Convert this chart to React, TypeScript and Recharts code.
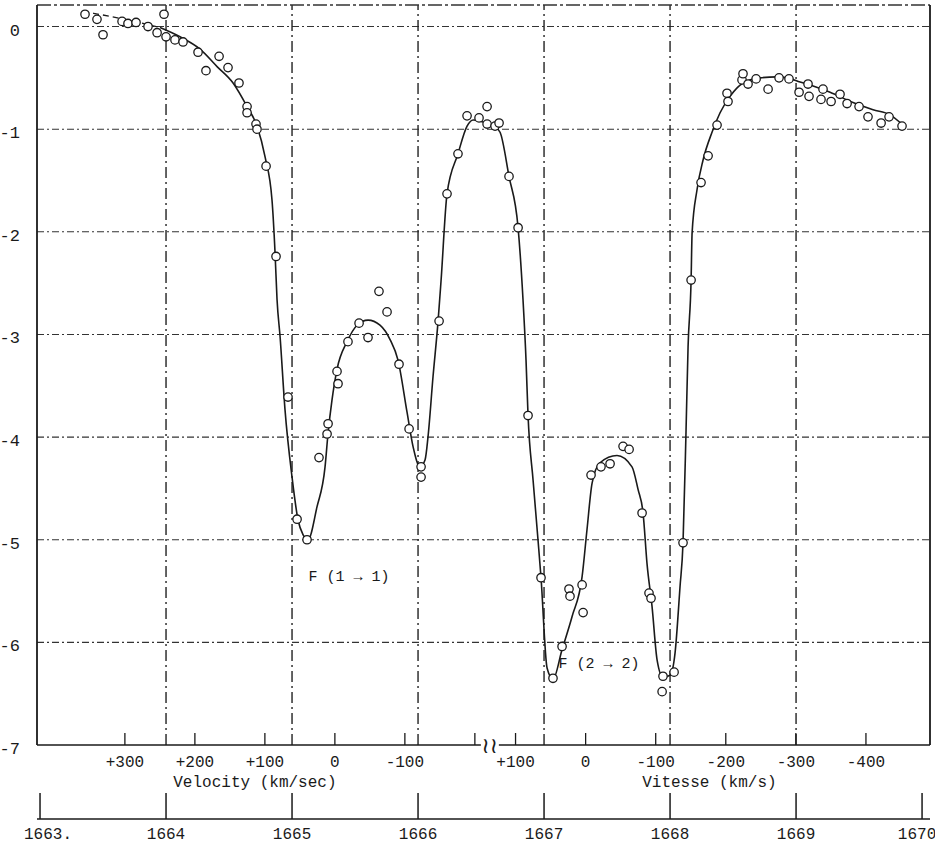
import {
  ComposedChart,
  Line,
  ReferenceDot,
  ReferenceLine,
  Scatter,
  XAxis,
  YAxis,
} from "recharts";

// frequency axis (MHz)
const freqTicks = [1663, 1664, 1665, 1666, 1667, 1668, 1669, 1670];
const freqLabels = ["1663.", "1664", "1665", "1666", "1667", "1668", "1669", "1670"];
const gridFreqs = [1664, 1665, 1666, 1667, 1668, 1669];

// vertical axis
const levelTicks = [0, -1, -2, -3, -4, -5, -6, -7];
const gridLevels = [0, -1, -2, -3, -4, -5, -6];

const restFreq11 = 1665.34;
const restFreq22 = 1667.33;
const velocities11 = [300, 200, 100, 0, -100, -200];
const velocityLabels11 = ["+300", "+200", "+100", "0", "-100", ""];
const velocities22 = [100, 0, -100, -200, -300, -400];
const velocityLabels22 = ["+100", "0", "-100", "-200", "-300", "-400"];
const breakFreq = 1666.57;

// observed points
const obsFreq = [
  1663.357, 1663.452, 1663.5, 1663.651, 1663.698, 1663.762, 1663.857, 1663.929, 1663.984, 1664.0,
  1664.071, 1664.135, 1664.254, 1664.317, 1664.421, 1664.492, 1664.579, 1664.643, 1664.643, 1664.714,
  1664.722, 1664.794, 1664.873, 1664.968, 1665.04, 1665.119, 1665.214, 1665.278, 1665.286, 1665.357,
  1665.365, 1665.444, 1665.532, 1665.603, 1665.69, 1665.754, 1665.849, 1665.929, 1666.024, 1666.024,
  1666.167, 1666.23, 1666.317, 1666.389, 1666.484, 1666.548, 1666.548, 1666.611, 1666.643, 1666.722,
  1666.794, 1666.873, 1666.976, 1667.071, 1667.143, 1667.198, 1667.206, 1667.302, 1667.31, 1667.373,
  1667.452, 1667.524, 1667.627, 1667.675, 1667.778, 1667.833, 1667.849, 1667.944, 1667.937, 1668.032,
  1668.103, 1668.167, 1668.246, 1668.302, 1668.373, 1668.452, 1668.46, 1668.571, 1668.579, 1668.619,
  1668.683, 1668.778, 1668.865, 1668.944, 1669.024, 1669.095, 1669.103, 1669.198, 1669.214, 1669.278,
  1669.349, 1669.405, 1669.5, 1669.571, 1669.675, 1669.738, 1669.841,
];
const obsLevel = [
  0.12, 0.07, -0.08, 0.05, 0.03, 0.04, 0.0, -0.06, 0.12, -0.1,
  -0.13, -0.15, -0.25, -0.43, -0.29, -0.4, -0.55, -0.78, -0.84, -0.95,
  -1.0, -1.36, -2.24, -3.61, -4.8, -5.0, -4.2, -3.97, -3.87, -3.36,
  -3.48, -3.07, -2.89, -3.03, -2.58, -2.78, -3.29, -3.92, -4.29, -4.39,
  -2.87, -1.63, -1.24, -0.87, -0.89, -0.78, -0.95, -0.97, -0.94, -1.46,
  -1.96, -3.79, -5.37, -6.35, -6.04, -5.48, -5.55, -5.44, -5.71, -4.37,
  -4.29, -4.26, -4.09, -4.12, -4.74, -5.52, -5.57, -6.33, -6.48, -6.29,
  -5.03, -2.47, -1.52, -1.26, -0.96, -0.65, -0.73, -0.52, -0.46, -0.56,
  -0.51, -0.61, -0.5, -0.51, -0.64, -0.56, -0.68, -0.71, -0.61, -0.73,
  -0.66, -0.75, -0.78, -0.88, -0.94, -0.88, -0.97,
];

// fitted curve
const fitFreq = [
  1663.952, 1664.111, 1664.27, 1664.405, 1664.532, 1664.643, 1664.722, 1664.786, 1664.841, 1664.865,
  1664.881, 1664.905, 1664.944, 1665.0, 1665.048, 1665.087, 1665.127, 1665.198, 1665.262, 1665.286,
  1665.317, 1665.357, 1665.437, 1665.516, 1665.603, 1665.698, 1665.778, 1665.841, 1665.913, 1665.96,
  1666.016, 1666.056, 1666.079, 1666.119, 1666.159, 1666.183, 1666.23, 1666.317, 1666.389, 1666.437,
  1666.516, 1666.595, 1666.651, 1666.722, 1666.794, 1666.833, 1666.857, 1666.873, 1666.913, 1666.952,
  1666.976, 1667.024, 1667.071, 1667.143, 1667.222, 1667.302, 1667.341, 1667.381, 1667.444, 1667.579,
  1667.698, 1667.746, 1667.786, 1667.817, 1667.857, 1667.897, 1667.944, 1668.0, 1668.04, 1668.079,
  1668.103, 1668.127, 1668.143, 1668.167, 1668.175, 1668.214, 1668.262, 1668.333, 1668.397, 1668.476,
  1668.579, 1668.714, 1668.849, 1668.929, 1669.032, 1669.135, 1669.27, 1669.452, 1669.611, 1669.746,
  1669.849,
];
const fitLevel = [
  -0.01, -0.1, -0.22, -0.39, -0.55, -0.78, -0.97, -1.27, -1.69, -2.2,
  -2.66, -3.02, -3.73, -4.39, -4.81, -4.95, -5.0, -4.68, -4.29, -3.96,
  -3.64, -3.34, -3.07, -2.91, -2.86, -2.91, -3.05, -3.25, -3.76, -4.09,
  -4.29, -4.22, -4.0, -3.41, -2.87, -2.47, -1.63, -1.24, -0.97, -0.91,
  -0.93, -0.96, -1.03, -1.46, -1.96, -2.66, -3.25, -3.79, -4.42, -5.0,
  -5.37, -6.25, -6.36, -6.07, -5.75, -5.36, -4.9, -4.45, -4.25, -4.18,
  -4.29, -4.51, -4.74, -5.23, -5.65, -6.17, -6.34, -6.32, -6.1, -5.46,
  -5.03, -3.93, -3.12, -2.47, -2.01, -1.59, -1.3, -1.03, -0.84, -0.68,
  -0.55, -0.5, -0.49, -0.5, -0.54, -0.58, -0.64, -0.74, -0.81, -0.86,
  -0.96,
];

// dashed continuation of the curve at the far left
const tailFreq = [1663.421, 1663.675, 1663.952];
const tailLevel = [0.13, 0.07, -0.01];

const C_KMS = 299792.458;
const FONT = "'Liberation Mono', 'DejaVu Sans Mono', monospace";
const INK = "#1a1a1a";
const X_MIN = 1662.976;
const X_MAX = 1670.063;
const Y_TOP = 0.21;
const VEL = "a_vel";
const FREQ = "b_freq";

const observed = obsFreq.map((f, i) => ({ f, level: obsLevel[i] }));
const fitted = fitFreq.map((f, i) => ({ f, level: fitLevel[i] }));
const tail = tailFreq.map((f, i) => ({ f, level: tailLevel[i] }));

const velTicks = [
  ...velocities11.map((v, i) => ({ f: restFreq11 * (1 - v / C_KMS), label: velocityLabels11[i] })),
  { f: breakFreq, label: "break" },
  ...velocities22.map((v, i) => ({ f: restFreq22 * (1 - v / C_KMS), label: velocityLabels22[i] })),
].sort((a, b) => a.f - b.f);

function VelTick(props: any) {
  const { x, y, payload } = props;
  const t = velTicks.find((k) => Math.abs(k.f - payload.value) < 1e-9);
  if (!t) return null;
  if (t.label === "break") {
    return (
      <g>
        <rect x={x - 9} y={y - 3} width={18} height={6} fill="#fff" />
        <text x={x} y={y + 8} textAnchor="middle" fontSize={22} fontFamily="'DejaVu Sans', sans-serif" fill={INK}>
          ≀≀
        </text>
      </g>
    );
  }
  return (
    <g>
      <line x1={x} y1={y} x2={x} y2={y - 12} stroke={INK} strokeWidth={1.3} />
      {t.label && (
        <text x={x} y={y + 22} textAnchor="middle" fontSize={16} fontFamily={FONT} fill={INK}>
          {t.label}
        </text>
      )}
    </g>
  );
}

function FreqTick(props: any) {
  const { x, y, payload } = props;
  const i = freqTicks.indexOf(payload.value);
  const shift = i === 0 ? 8 : i === freqTicks.length - 1 ? -5 : 0;
  return (
    <g>
      <line x1={x} y1={y} x2={x} y2={y - 26} stroke={INK} strokeWidth={1.5} />
      <text x={x + shift} y={y + 20} textAnchor="middle" fontSize={16} fontFamily={FONT} fill={INK}>
        {freqLabels[i]}
      </text>
    </g>
  );
}

function LevelTick(props: any) {
  const { x, y, payload } = props;
  return (
    <text x={x} y={y + 9} textAnchor="end" fontSize={17} fontFamily={FONT} fill={INK}>
      {String(payload.value)}
    </text>
  );
}

function VelCaptions(props: any) {
  const vb = props.viewBox || {};
  const x0 = vb.x ?? 37;
  const w = vb.width ?? 893;
  const y0 = vb.y ?? 745;
  return (
    <g fontFamily={FONT} fontSize={16} fill={INK}>
      <text x={x0 + 0.244 * w} y={y0 + 42} textAnchor="middle">
        Velocity (km/sec)
      </text>
      <text x={x0 + 0.753 * w} y={y0 + 42} textAnchor="middle">
        Vitesse (km/s)
      </text>
    </g>
  );
}

function Dot(props: any) {
  const { cx, cy } = props;
  if (cx == null || cy == null) return null;
  return <circle cx={cx} cy={cy} r={4.2} fill="#fff" stroke={INK} strokeWidth={1.3} />;
}

function note(text: string) {
  return (props: any) => (
    <text x={props.cx} y={props.cy + 5} textAnchor="middle" fontSize={15} fontFamily={FONT} fill={INK}>
      {text}
    </text>
  );
}

export default function App() {
  return (
    <div style={{ position: "absolute", left: 0, top: 0, width: 935, height: 845, background: "#fff" }}>
      <ComposedChart width={935} height={845} margin={{ top: 5, right: 5, bottom: 0, left: 0 }}>
        <XAxis
          xAxisId={FREQ}
          type="number"
          dataKey="f"
          domain={[X_MIN, X_MAX]}
          allowDataOverflow
          ticks={freqTicks}
          interval={0}
          tick={<FreqTick />}
          tickLine={false}
          tickSize={0}
          tickMargin={0}
          height={26}
          axisLine={{ stroke: INK, strokeWidth: 1.4 }}
        />
        <XAxis
          xAxisId={VEL}
          type="number"
          dataKey="f"
          domain={[X_MIN, X_MAX]}
          allowDataOverflow
          ticks={velTicks.map((t) => t.f)}
          interval={0}
          tick={<VelTick />}
          tickLine={false}
          tickSize={0}
          tickMargin={0}
          height={74}
          axisLine={{ stroke: INK, strokeWidth: 1.6 }}
          label={<VelCaptions />}
        />
        <YAxis
          type="number"
          dataKey="level"
          domain={[-7, Y_TOP]}
          allowDataOverflow
          ticks={levelTicks}
          interval={0}
          width={37}
          tick={<LevelTick />}
          tickLine={false}
          tickSize={0}
          tickMargin={17}
          axisLine={{ stroke: INK, strokeWidth: 1.8 }}
        />

        {gridLevels.map((v) => (
          <ReferenceLine
            key={"h" + v}
            xAxisId={VEL}
            y={v}
            stroke="#333"
            strokeWidth={1.1}
            strokeDasharray="7 3 2 3"
          />
        ))}
        {gridFreqs.map((f) => (
          <ReferenceLine
            key={"v" + f}
            xAxisId={VEL}
            x={f}
            stroke="#222"
            strokeWidth={1.4}
            strokeDasharray="11 4 2 4"
          />
        ))}
        <ReferenceLine xAxisId={VEL} y={Y_TOP} stroke="#333" strokeWidth={1.3} strokeDasharray="14 3 3 3" />
        <ReferenceLine xAxisId={VEL} x={X_MAX} stroke={INK} strokeWidth={1.8} />

        <Line
          xAxisId={VEL}
          data={tail}
          dataKey="level"
          type="monotone"
          stroke={INK}
          strokeWidth={1.3}
          strokeDasharray="6 4"
          dot={false}
          isAnimationActive={false}
        />
        <Line
          xAxisId={VEL}
          data={fitted}
          dataKey="level"
          type="monotone"
          stroke={INK}
          strokeWidth={1.6}
          dot={false}
          isAnimationActive={false}
        />
        <Scatter
          xAxisId={VEL}
          data={observed}
          dataKey="level"
          shape={<Dot />}
          isAnimationActive={false}
        />

        <ReferenceDot xAxisId={VEL} x={1665.452} y={-5.35} r={0} shape={note("F (1 → 1)")} ifOverflow="visible" />
        <ReferenceDot xAxisId={VEL} x={1667.437} y={-6.2} r={0} shape={note("F (2 → 2)")} ifOverflow="visible" />
      </ComposedChart>
    </div>
  );
}
